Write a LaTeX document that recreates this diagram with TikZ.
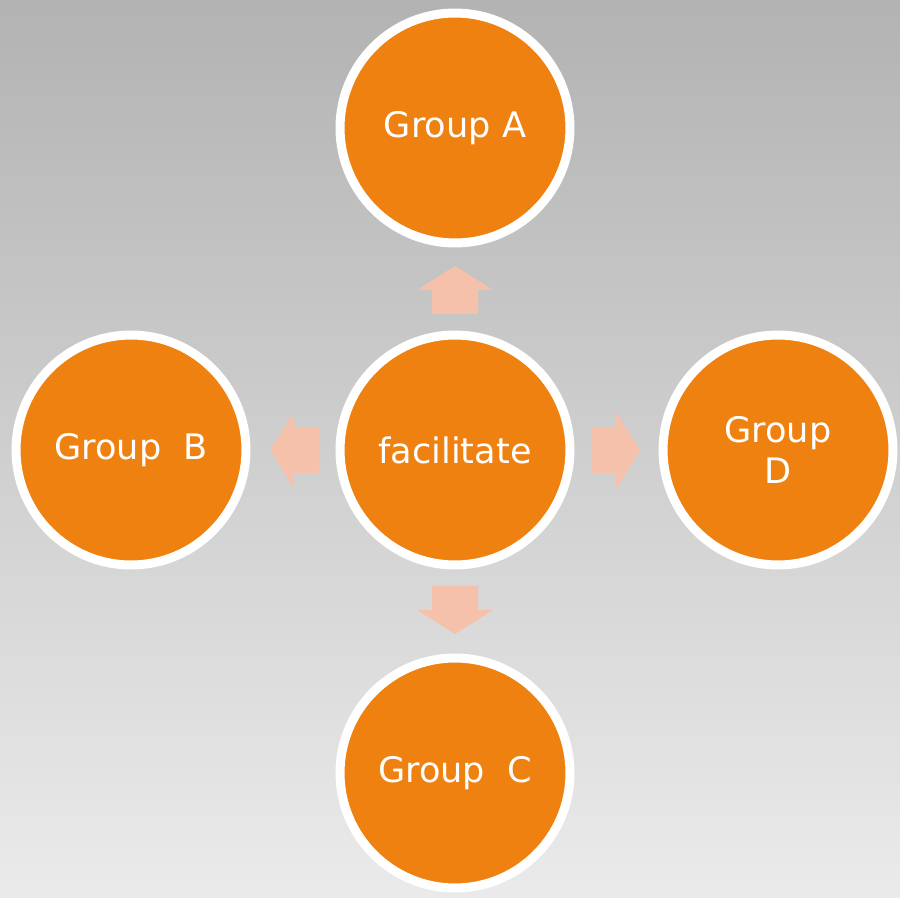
\documentclass[tikz,border=0pt]{standalone}
\usepackage{fontspec}
\setmainfont{DejaVu Sans}
\usepackage{tikz}
\definecolor{grouporange}{HTML}{EF8110}
\definecolor{arrowpeach}{HTML}{F5C1AA}
\tikzstyle{group}=[circle, draw=white, line width=0.18cm, fill=grouporange, minimum size=4.6cm, inner sep=0pt, text=white, font=\fontsize{20}{23}\selectfont, align=center]
\tikzstyle{blockarrow}=[fill=arrowpeach, draw=none]

\begin{document}
\begin{tikzpicture}[x=0.02cm, y=-0.02cm]
        \shade[top color=black!30, bottom color=black!8] (0,0) rectangle (900,898);
        \useasboundingbox (0,0) rectangle (900,898);
        \node[group]                  (F) at (455, 450) {facilitate};
        \node[group]                  (A) at (455, 128) {Group A};
        \node[group]                  (B) at (131, 450) {Group\ \ B};
        \node[group]                  (C) at (455, 773) {Group\ \ C};
        \node[group]                  (D) at (778, 450) {Group\\D};
        % arrows out of the centre
        \fill[blockarrow] (455, 266) -- (493, 290) -- (478, 290) -- (478, 314) -- (432, 314) -- (432, 290) -- (417, 290) -- cycle;
        \fill[blockarrow] (455, 634) -- (493, 610) -- (478, 610) -- (478, 586) -- (432, 586) -- (432, 610) -- (417, 610) -- cycle;
        \fill[blockarrow] (270, 450) -- (294, 412) -- (294, 427) -- (319, 427) -- (319, 473) -- (294, 473) -- (294, 489) -- cycle;
        \fill[blockarrow] (640, 450) -- (616, 412) -- (616, 427) -- (591, 427) -- (591, 473) -- (616, 473) -- (616, 489) -- cycle;
    \end{tikzpicture}
\end{document}
